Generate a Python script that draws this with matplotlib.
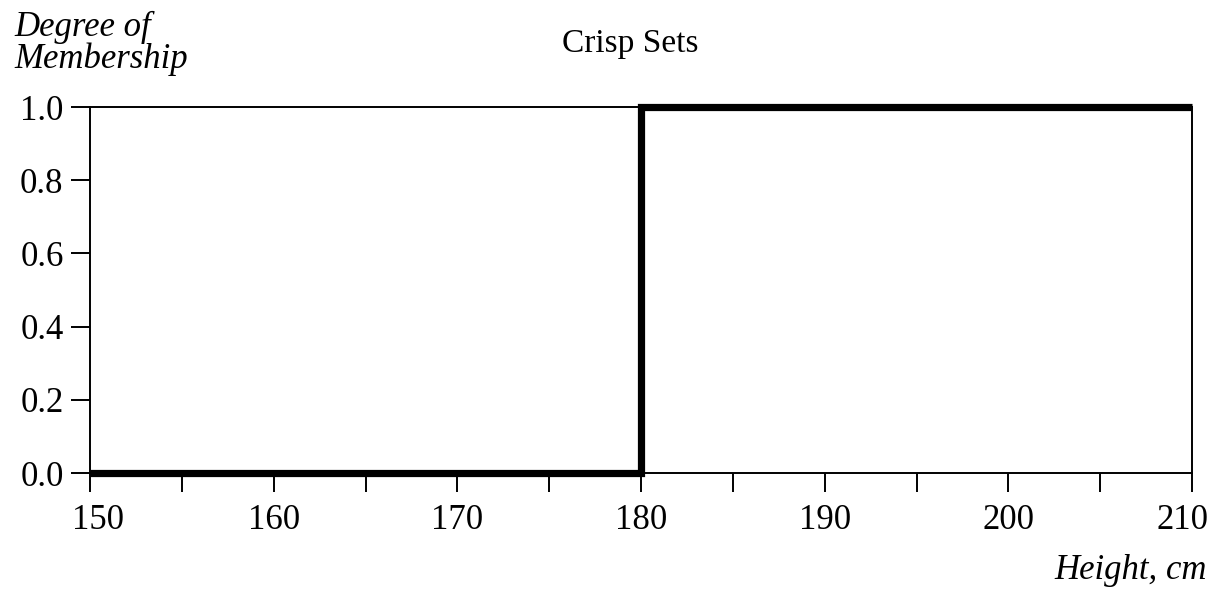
import numpy as np
import matplotlib.pyplot as plt
import matplotlib.transforms as mtransforms

# crisp set membership for "tall men"
height = [150, 180, 180, 210]
membership = [0, 0, 1, 1]
xticks = [150, 160, 170, 180, 190, 200, 210]
yticks = [0.0, 0.2, 0.4, 0.6, 0.8, 1.0]

plt.rcParams['font.family'] = ['Liberation Serif', 'DejaVu Serif']

fig = plt.figure(figsize=(12.2, 5.96), dpi=100)
ax = fig.add_axes([90/1220, 1-473/596, 1102/1220, 366/596])

ax.plot(height, membership, color='black', lw=5.2, clip_on=False,
        solid_joinstyle='miter', solid_capstyle='butt')

ax.set_xlim(150, 210)
ax.set_ylim(0, 1)
ax.set_xticks(xticks)
ax.set_xticks(np.arange(155, 210, 10), minor=True)
ax.set_yticks(yticks)
ax.set_xticklabels([str(t) for t in xticks])
ax.set_yticklabels(['%.1f' % t for t in yticks])
ax.tick_params(axis='both', which='both', direction='out', width=1.4,
               labelsize=25, colors='black')
ax.tick_params(axis='x', which='both', length=14, pad=8)
ax.tick_params(axis='y', length=14, pad=5)
for s in ax.spines.values():
    s.set_linewidth(1.4)

# end labels sit a little inside the axis ends
labs = ax.get_xticklabels()
labs[0].set_transform(labs[0].get_transform() +
                      mtransforms.ScaledTranslation(8/100, 0, fig.dpi_scale_trans))
labs[-1].set_transform(labs[-1].get_transform() +
                       mtransforms.ScaledTranslation(-10/100, 0, fig.dpi_scale_trans))

fig.text(14/1220, 1-11/596, 'Degree of\nMembership', ha='left', va='top',
         fontsize=25, style='italic', linespacing=0.95)
fig.text(630/1220, 1-52/596, 'Crisp Sets', ha='center', va='baseline', fontsize=24)
fig.text(1207/1220, 1-579/596, 'Height, cm', ha='right', va='baseline',
         fontsize=25, style='italic')

fig.savefig('out.png', dpi=100)
